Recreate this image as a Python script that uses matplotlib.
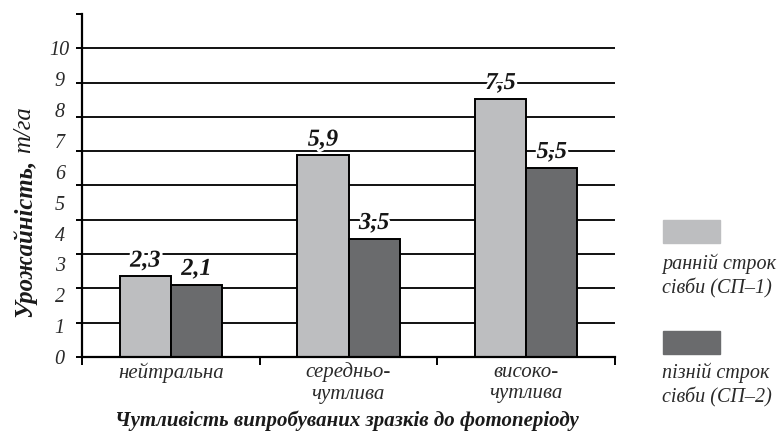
import numpy as np
import matplotlib
matplotlib.use('Agg')
import matplotlib.pyplot as plt
from matplotlib import patheffects
from matplotlib.patches import Rectangle

# data
categories = ['нейтральна', 'середньо-\nчутлива', 'високо-\nчутлива']
early = [2.35, 5.88, 7.53]
late = [2.11, 3.45, 5.52]
early_labels = ['2,3', '5,9', '7,5']
late_labels = ['2,1', '3,5', '5,5']
series_names = ['ранній строк\nсівби (СП–1)', 'пізній строк\nсівби (СП–2)']
ytick_labels = [str(v) for v in range(11)]

light = '#bdbec0'
dark = '#6a6b6d'
txt = '#2a2a2a'

plt.rcParams['font.family'] = ['Liberation Serif', 'DejaVu Serif']

fig = plt.figure(figsize=(7.82, 4.32), dpi=100)
ax = fig.add_axes([82 / 782, 1 - 357 / 432, (615 - 82) / 782, (357 - 14) / 432])

x = np.arange(len(categories))
w = 0.288
ax.bar(x - w / 2, early, w, color=light, edgecolor='black', linewidth=1.4, zorder=3)
ax.bar(x + w / 2, late, w, color=dark, edgecolor='black', linewidth=1.4, zorder=3)

# grid lines 1..9
for v in range(1, 10):
    ax.axhline(v, color='#111111', lw=1.4, zorder=1)

halo = [patheffects.withStroke(linewidth=4, foreground='white')]
for xi, h, lab in zip(x - w / 2, early, early_labels):
    ax.annotate(lab, (xi, h), xytext=(0, 7), textcoords='offset points',
                ha='center', va='baseline', fontsize=17.5, fontweight='bold',
                fontstyle='italic', color='#151515', path_effects=halo, zorder=4)
for xi, h, lab in zip(x + w / 2, late, late_labels):
    ax.annotate(lab, (xi, h), xytext=(0, 7), textcoords='offset points',
                ha='center', va='baseline', fontsize=17.5, fontweight='bold',
                fontstyle='italic', color='#151515', path_effects=halo, zorder=4)

ax.set_xlim(-0.5, len(categories) - 0.5)
ax.set_ylim(0, 10)
for s in ['top', 'right']:
    ax.spines[s].set_visible(False)
for s in ['left', 'bottom']:
    ax.spines[s].set_linewidth(1.6)
    ax.spines[s].set_zorder(5)

# tick marks
ax.xaxis.remove_overlapping_locs = False
ax.yaxis.remove_overlapping_locs = False
ax.set_xticks(np.arange(len(categories) + 1) - 0.5)
ax.set_xticklabels([])
ax.tick_params(axis='x', which='major', direction='out', length=6, width=1.4)
ax.set_xticks(x, minor=True)
ax.set_xticklabels(categories, minor=True, fontsize=15, fontstyle='italic',
                   color=txt, linespacing=1.15)
ax.tick_params(axis='x', which='minor', length=0, pad=4)

ax.set_yticks(np.arange(11))
ax.set_yticklabels([])
ax.tick_params(axis='y', which='major', direction='out', length=4.5, width=1.4)
ax.set_yticks(np.arange(11) * 0.9, minor=True)
ax.set_yticklabels(ytick_labels, minor=True, fontsize=14.5, fontstyle='italic', color=txt)
ax.tick_params(axis='y', which='minor', length=0, pad=16)
for t in ax.get_yticklabels(minor=True):
    t.set_horizontalalignment('center')

# axis titles
fig.text(347 / 782, 1 - 426 / 432, 'Чутливість випробуваних зразків до фотоперіоду',
         ha='center', va='baseline', fontsize=15, fontweight='bold',
         fontstyle='italic', color='#1a1a1a')
yl = fig.text(24 / 782, 1 - 317 / 432, 'Урожайність,', rotation=90,
              ha='center', va='bottom', fontsize=17.8, fontweight='bold',
              fontstyle='italic', color='#1a1a1a')
fig.add_artist(plt.Annotation('т/га', xy=(0.5, 1), xycoords=yl, xytext=(0, 4),
                              textcoords='offset points', rotation=90,
                              ha='center', va='bottom', fontsize=17.8,
                              fontstyle='italic', color='#1a1a1a'))

# legend
for name, col, ytop, ytxt in zip(series_names, [light, dark], [220, 331], [276, 385.5]):
    fig.add_artist(Rectangle((663 / 782, 1 - (ytop + 23) / 432), 57 / 782, 23 / 432,
                             transform=fig.transFigure, color=col))
    fig.text(662 / 782, 1 - ytxt / 432, name, ha='left', va='center', fontsize=14.5,
             fontstyle='italic', color=txt, linespacing=1.3)

fig.savefig('out.png', dpi=100)
